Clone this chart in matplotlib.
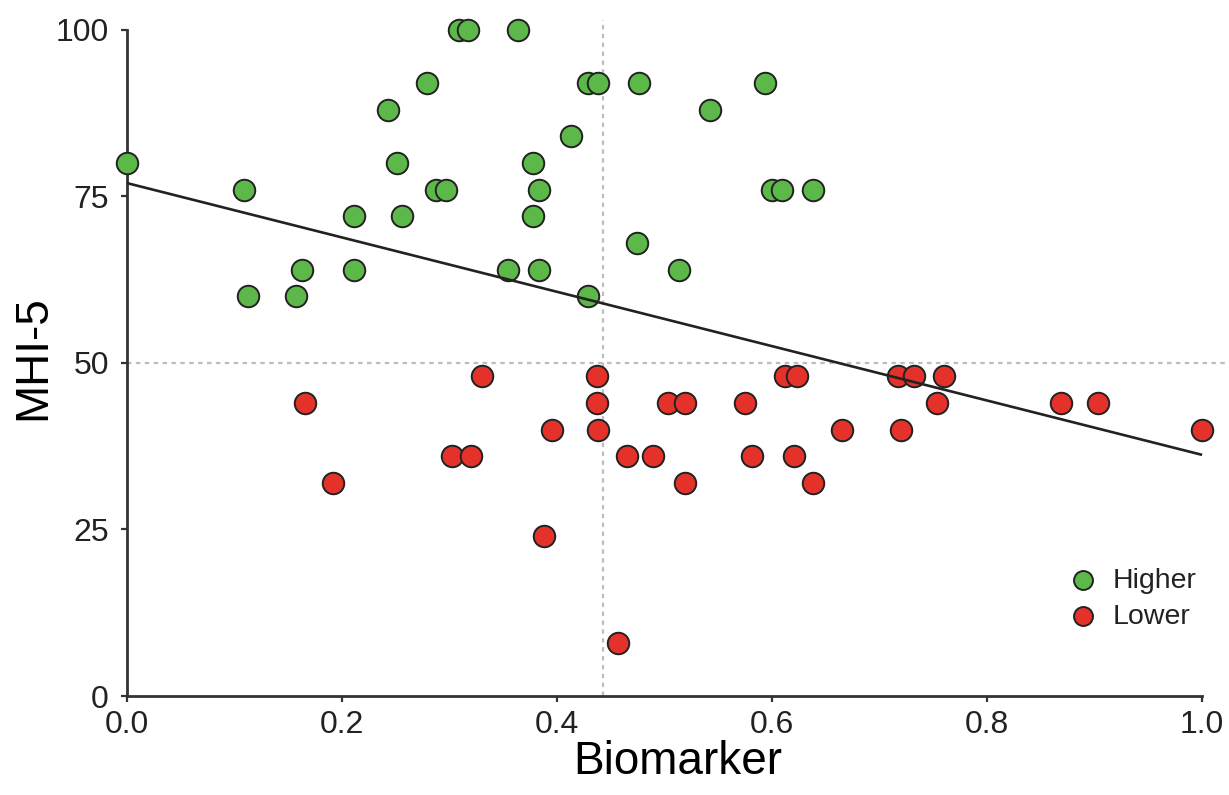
"""
plot.py - MHI-5 score against biomarker level, split by group
Outputs : out.png
"""

import numpy as np
import matplotlib
matplotlib.use("Agg")
import matplotlib.pyplot as plt

# ─────────────────────────── DATA ───────────────────────────
# "Higher" group (MHI-5 >= 60)
HIGHER_X = [0.000, 0.109, 0.113, 0.157, 0.163, 0.211, 0.211, 0.243, 0.251,
            0.256, 0.279, 0.287, 0.297, 0.309, 0.317, 0.354, 0.364, 0.378,
            0.378, 0.383, 0.383, 0.413, 0.429, 0.429, 0.438, 0.474, 0.476,
            0.513, 0.542, 0.593, 0.600, 0.609, 0.638]
HIGHER_Y = [80, 76, 60, 60, 64, 72, 64, 88, 80,
            72, 92, 76, 76, 100, 100, 64, 100, 80,
            72, 76, 64, 84, 92, 60, 92, 68, 92,
            64, 88, 92, 76, 76, 76]

# "Lower" group (MHI-5 < 50)
LOWER_X = [0.166, 0.192, 0.302, 0.320, 0.330, 0.388, 0.395, 0.437, 0.437,
           0.438, 0.457, 0.465, 0.489, 0.503, 0.519, 0.519, 0.575, 0.581,
           0.612, 0.620, 0.623, 0.638, 0.665, 0.717, 0.720, 0.732, 0.753,
           0.760, 0.869, 0.903, 1.000]
LOWER_Y = [44, 32, 36, 36, 48, 24, 40, 48, 44,
           40, 8, 36, 36, 44, 44, 32, 44, 36,
           48, 36, 48, 32, 40, 48, 40, 48, 44,
           48, 44, 44, 40]

# Fitted regression line
FIT_INTERCEPT = 77.0
FIT_SLOPE     = -40.8

# Reference cut-offs (dotted lines)
X_CUT = 0.443
Y_CUT = 50

X_TICKS = [0.0, 0.2, 0.4, 0.6, 0.8, 1.0]
Y_TICKS = [0, 25, 50, 75, 100]

# ─────────────────────────── STYLE ──────────────────────────
GREEN    = "#5cb848"
RED      = "#e4322a"
EDGE     = "#222222"
AXIS_COL = "#333333"
REF_COL  = "#bdbdbd"

plt.rcParams.update({
    "font.family": ["Liberation Sans", "DejaVu Sans"],
    "text.color":  "#222222",
    "xtick.color": AXIS_COL,
    "ytick.color": AXIS_COL,
    "xtick.labelcolor": "#222222",
    "ytick.labelcolor": "#222222",
})


def main():
    fig = plt.figure(figsize=(12.29, 7.95), dpi=100)
    ax = fig.add_axes([0.1033, 0.1245, 0.8967, 0.8505])

    # ── reference lines ──
    ax.axvline(X_CUT, color=REF_COL, linewidth=1.6, linestyle=(0, (2, 2)), zorder=1)
    ax.axhline(Y_CUT, color=REF_COL, linewidth=1.6, linestyle=(0, (2, 2)), zorder=1)

    # ── points ──
    ax.scatter(HIGHER_X, HIGHER_Y, s=240, color=GREEN, edgecolor=EDGE,
               linewidth=1.4, zorder=3, clip_on=False, label="Higher")
    ax.scatter(LOWER_X, LOWER_Y, s=240, color=RED, edgecolor=EDGE,
               linewidth=1.4, zorder=3, clip_on=False, label="Lower")

    # ── regression line ──
    xs = np.array([0.0, 1.0])
    ax.plot(xs, FIT_INTERCEPT + FIT_SLOPE * xs, color="#222222",
            linewidth=1.9, zorder=4, solid_capstyle="butt")

    # ── axes ──
    ax.set_xlim(0, 1.025)
    ax.set_ylim(0, 101.5)
    for side in ("top", "right"):
        ax.spines[side].set_visible(False)
    ax.spines["left"].set_bounds(0, 100)
    ax.spines["bottom"].set_bounds(0, 1.0)
    for side in ("left", "bottom"):
        ax.spines[side].set_color(AXIS_COL)
        ax.spines[side].set_linewidth(2.0)

    ax.set_xticks(X_TICKS)
    ax.set_xticklabels([f"{t:.1f}" for t in X_TICKS])
    ax.set_yticks(Y_TICKS)
    ax.tick_params(axis="both", direction="out", length=4, width=1.6,
                   labelsize=23)
    ax.tick_params(axis="x", pad=6)
    ax.tick_params(axis="y", pad=9)

    ax.set_xlabel("Biomarker", fontsize=33, labelpad=0)
    ax.set_ylabel("MHI-5", fontsize=33, labelpad=0)

    # ── legend ──
    leg = ax.legend(loc="lower right", bbox_to_anchor=(0.99, 0.183),
                    bbox_transform=fig.transFigure, frameon=False,
                    fontsize=20.5, markerscale=0.88, handletextpad=0.05,
                    labelspacing=0.35, borderpad=0.2, scatterpoints=1)
    for t in leg.get_texts():
        t.set_color("#222222")

    fig.savefig("out.png", dpi=100)


if __name__ == "__main__":
    main()
